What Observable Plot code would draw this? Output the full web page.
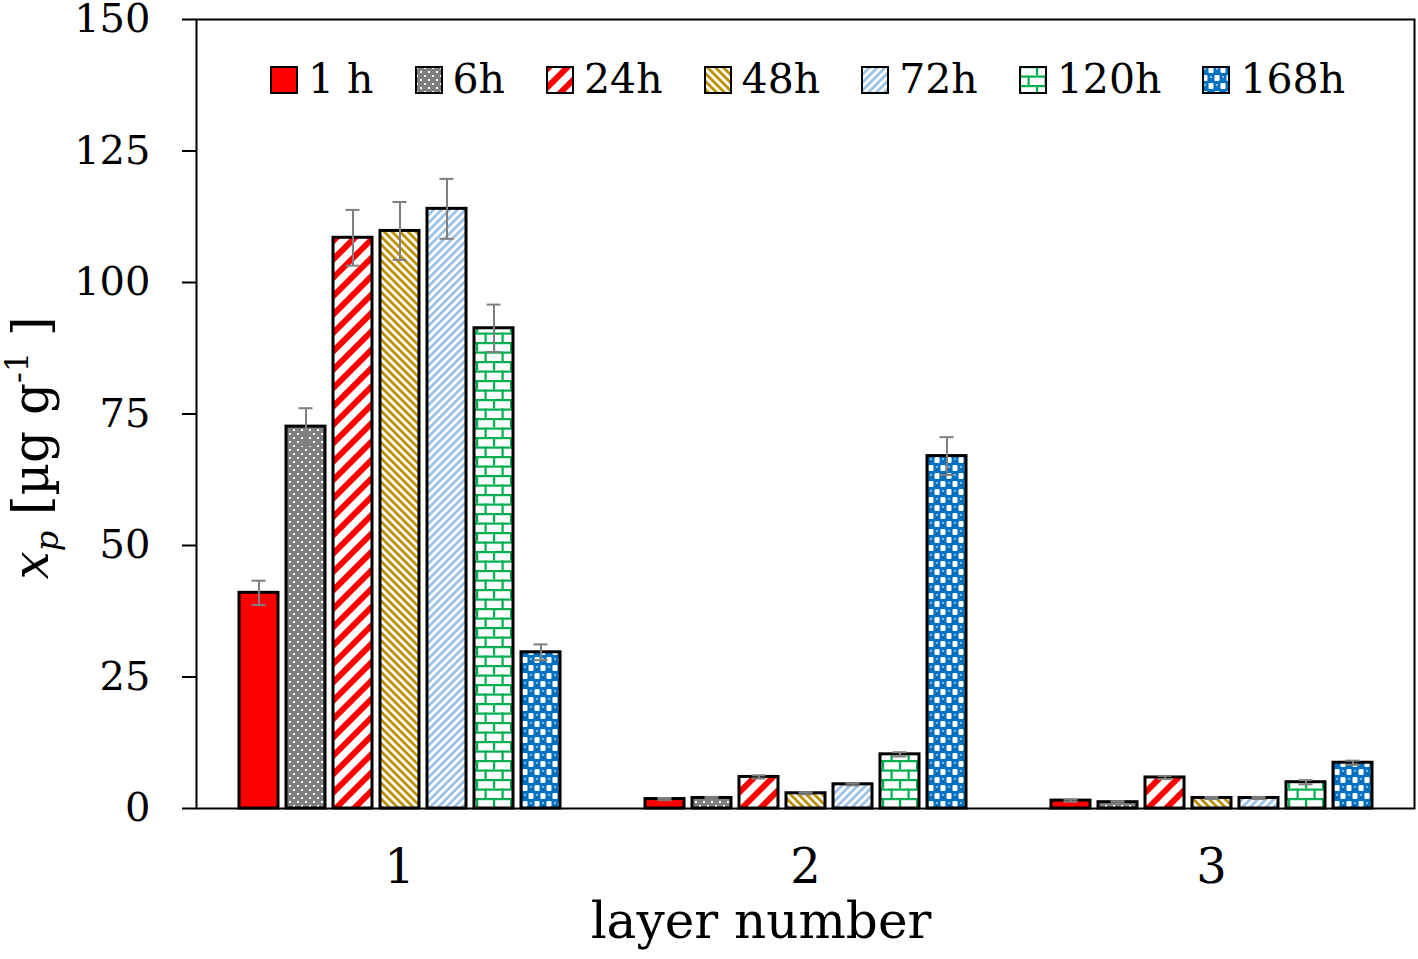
<!DOCTYPE html>
<html>
<head>
<meta charset="utf-8">
<script src="https://cdn.jsdelivr.net/npm/d3@7"></script>
<script src="https://cdn.jsdelivr.net/npm/@observablehq/plot@0.6"></script>
<style>
  body { margin: 0; background: #fff; }
  #wrap { position: relative; width: 1418px; height: 959px; font-family: "DejaVu Serif", serif; }
  #legend { position: absolute; left: 270px; top: 59px; display: flex; align-items: center; font-size: 41px; line-height: 1; color: #000; }
  .item { display: flex; align-items: center; margin-right: 41px; white-space: pre; }
  .item svg { margin-right: 10px; display: block; }
</style>
</head>
<body>
<div id="wrap">
  <svg width="0" height="0" style="position:absolute">
    <defs>
      <pattern id="p6" width="8" height="8" patternUnits="userSpaceOnUse">
        <rect width="8" height="8" fill="#808080"/>
        <rect x="1" y="1" width="2" height="2" fill="#fff"/>
        <rect x="5" y="5" width="2" height="2" fill="#fff"/>
      </pattern>
      <pattern id="p24" width="13" height="13" patternUnits="userSpaceOnUse" patternTransform="rotate(45)">
        <rect width="13" height="13" fill="#fff"/>
        <rect width="6" height="13" fill="#FF0000"/>
      </pattern>
      <pattern id="p48" width="5.6" height="5.6" patternUnits="userSpaceOnUse" patternTransform="rotate(-45)">
        <rect width="5.6" height="5.6" fill="#fff"/>
        <rect width="2.8" height="5.6" fill="#BF9000"/>
      </pattern>
      <pattern id="p72" width="5.6" height="5.6" patternUnits="userSpaceOnUse" patternTransform="rotate(45)">
        <rect width="5.6" height="5.6" fill="#fff"/>
        <rect width="2.8" height="5.6" fill="#9DC3E6"/>
      </pattern>
      <pattern id="p120" width="17" height="19" patternUnits="userSpaceOnUse">
        <rect width="17" height="19" fill="#fff"/>
        <rect x="0" y="0" width="17" height="2.2" fill="#00B050"/>
        <rect x="0" y="9.5" width="17" height="2.2" fill="#00B050"/>
        <rect x="0" y="0" width="2.2" height="9.5" fill="#00B050"/>
        <rect x="8.5" y="9.5" width="2.2" height="9.5" fill="#00B050"/>
      </pattern>
      <pattern id="p168" width="12" height="16" patternUnits="userSpaceOnUse">
        <rect width="12" height="16" fill="#0070C0"/>
        <rect x="6.5" y="1" width="5" height="6" rx="1" fill="#fff"/>
        <rect x="0.5" y="9" width="5" height="6" rx="1" fill="#fff"/>
        <circle cx="3" cy="3" r="1" fill="#bcd7ef"/>
        <circle cx="9" cy="11" r="1" fill="#bcd7ef"/>
      </pattern>
    </defs>
  </svg>
  <div id="chart"></div>
  <div id="legend"></div>
</div>
<script>
const layers = [1, 2, 3];
const series = ["1 h", "6h", "24h", "48h", "72h", "120h", "168h"];
const seriesFills = ["#FF0000", "url(#p6)", "url(#p24)", "url(#p48)", "url(#p72)", "url(#p120)", "url(#p168)"];
const layer1Values = [41.0, 72.6, 108.5, 109.8, 114.0, 91.3, 29.7];
const layer2Values = [1.8, 2.0, 6.0, 2.9, 4.6, 10.3, 67.0];
const layer3Values = [1.5, 1.2, 5.9, 2.0, 2.0, 5.0, 8.7];
const layer1Errors = [2.3, 3.5, 5.3, 5.5, 5.7, 4.5, 1.5];
const layer2Errors = [0.2, 0.2, 0.3, 0.2, 0.2, 0.4, 3.6];
const layer3Errors = [0.2, 0.2, 0.3, 0.2, 0.2, 0.4, 0.4];
const yTicks = [0, 25, 50, 75, 100, 125, 150];

const valuesByLayer = [layer1Values, layer2Values, layer3Values];
const errorsByLayer = [layer1Errors, layer2Errors, layer3Errors];
const rows = [];
layers.forEach((layer, li) => {
  series.forEach((s, si) => {
    rows.push({layer, series: s, value: valuesByLayer[li][si], err: errorsByLayer[li][si]});
  });
});

const chart = Plot.plot({
  width: 1418,
  height: 959,
  marginLeft: 196,
  marginRight: 4,
  marginTop: 19,
  marginBottom: 151,
  style: {fontFamily: "'DejaVu Serif', serif", fontSize: "40px", color: "#000", background: "transparent", overflow: "visible"},
  fx: {domain: layers, padding: 0, label: null},
  x: {domain: series, paddingInner: 0.18, paddingOuter: 0.855, axis: null},
  y: {domain: [0, 150], label: null},
  color: {domain: series, range: seriesFills},
  marks: [
    Plot.barY(rows, {fx: "layer", x: "series", y: "value", fill: "series", stroke: "#000", strokeWidth: 3}),
    Plot.ruleX(rows, {fx: "layer", x: "series", y1: d => d.value - d.err, y2: d => d.value + d.err, stroke: "#7f7f7f", strokeWidth: 2}),
    Plot.tickY(rows, {fx: "layer", x: "series", y: d => d.value - d.err, insetLeft: 12.5, insetRight: 12.5, stroke: "#7f7f7f", strokeWidth: 2}),
    Plot.tickY(rows, {fx: "layer", x: "series", y: d => d.value + d.err, insetLeft: 12.5, insetRight: 12.5, stroke: "#7f7f7f", strokeWidth: 2}),
    Plot.frame({facet: "super", stroke: "#000", strokeWidth: 2}),
    Plot.axisY({ticks: yTicks, tickSize: 14, tickPadding: 32, fontSize: 40, strokeWidth: 2, label: null}),
    Plot.axisFx({anchor: "bottom", tickSize: 0, tickPadding: 40, fontSize: 48, label: null})
  ]
});
document.getElementById("chart").appendChild(chart);

const svg = d3.select(chart);
// y axis title
const yt = svg.append("text")
  .attr("transform", "translate(48,448) rotate(-90)")
  .attr("text-anchor", "middle")
  .attr("font-size", 50)
  .attr("fill", "#000");
yt.append("tspan").attr("font-style", "italic").text("x");
yt.append("tspan").attr("font-style", "italic").attr("font-size", 32).attr("dy", 10).text("p");
yt.append("tspan").attr("dy", -10).text(" [µg g");
yt.append("tspan").attr("font-size", 32).attr("dy", -20).text("-1");
yt.append("tspan").attr("dy", 20).text(" ]");
// x axis title
svg.append("text")
  .attr("x", 761).attr("y", 938)
  .attr("text-anchor", "middle")
  .attr("font-size", 50)
  .attr("fill", "#000")
  .text("layer number");

// legend
const legend = document.getElementById("legend");
series.forEach((s, i) => {
  const item = document.createElement("div");
  item.className = "item";
  item.innerHTML = `<svg width="28" height="28"><rect x="1" y="1" width="26" height="26" fill="${seriesFills[i]}" stroke="#000" stroke-width="2"/></svg><span>${s}</span>`;
  legend.appendChild(item);
});
</script>
</body>
</html>
